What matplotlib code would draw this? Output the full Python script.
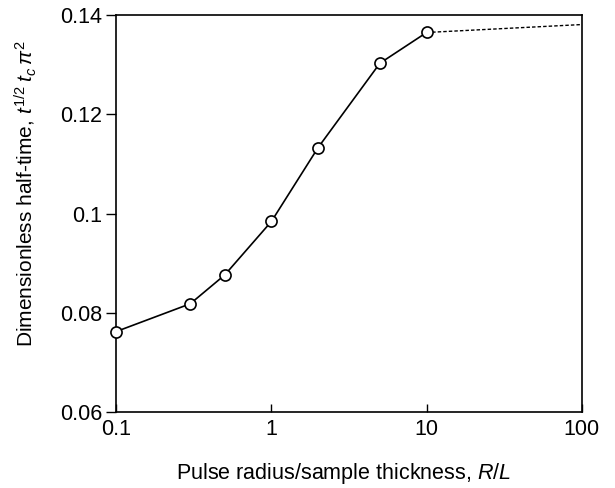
import matplotlib
matplotlib.use("Agg")
import matplotlib.pyplot as plt
from matplotlib.ticker import FixedLocator, FixedFormatter, NullLocator

plt.rcParams['font.family'] = ['Liberation Sans', 'DejaVu Sans']
plt.rcParams['mathtext.fontset'] = 'custom'
plt.rcParams['mathtext.rm'] = 'Liberation Sans'
plt.rcParams['mathtext.it'] = 'Liberation Sans:italic'

# Data
ratio = [0.1, 0.3, 0.5, 1, 2, 5, 10]
half_time = [0.0762, 0.0818, 0.0876, 0.0984, 0.1133, 0.1303, 0.1365]
ext_ratio = [10, 100]
ext_half_time = [0.1365, 0.1381]

x_ticks = [0.1, 1, 10, 100]
x_ticklabels = ['0.1', '1', '10', '100']
y_ticks = [0.06, 0.08, 0.10, 0.12, 0.14]
y_ticklabels = ['0.06', '0.08', '0.1', '0.12', '0.14']

fig = plt.figure(figsize=(6.15, 4.88), dpi=100)
ax = fig.add_axes([0.189, 0.156, 0.757, 0.813])

ax.plot(ext_ratio, ext_half_time, color='black', lw=1.0, ls=(0, (2.5, 1.5)), zorder=2)
ax.plot(ratio, half_time, color='black', lw=1.2, marker='o', markersize=8,
        markerfacecolor='white', markeredgecolor='black', markeredgewidth=1.2,
        clip_on=False, zorder=3)

ax.set_xscale('log')
ax.set_xlim(0.1, 100)
ax.set_ylim(0.06, 0.14)
ax.xaxis.set_major_locator(FixedLocator(x_ticks))
ax.xaxis.set_major_formatter(FixedFormatter(x_ticklabels))
ax.xaxis.set_minor_locator(NullLocator())
ax.yaxis.set_major_locator(FixedLocator(y_ticks))
ax.yaxis.set_major_formatter(FixedFormatter(y_ticklabels))

ax.tick_params(axis='x', direction='in', length=6, width=1.0, labelsize=15.5, pad=5)
ax.tick_params(axis='y', direction='out', length=7, width=1.0, labelsize=15.5, pad=3)
for s in ax.spines.values():
    s.set_linewidth(1.2)

ax.set_xlabel(r'Pulse radius/sample thickness, $R/L$', fontsize=15.5)
ax.set_ylabel(r'Dimensionless half-time, $t^{1/2}\;t_{c}\,\pi^{2}$', fontsize=15)
ax.xaxis.set_label_coords(0.489, -0.125)
ax.yaxis.set_label_coords(-0.165, 0.55)

fig.savefig('out.png', dpi=100)
